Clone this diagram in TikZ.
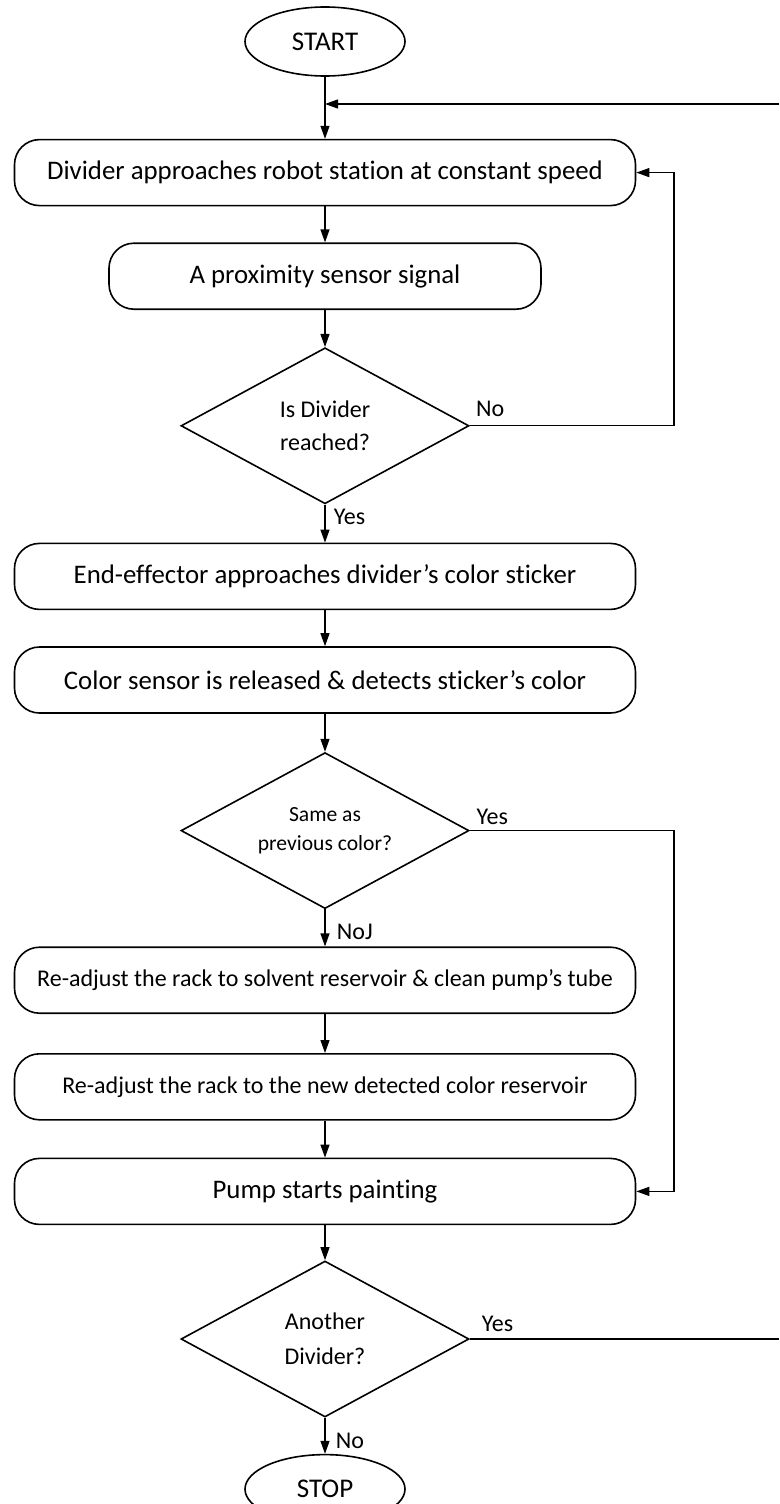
\documentclass[tikz,border=0pt]{standalone}
\usepackage{fontspec}
\setmainfont{Carlito}[Ligatures=NoCommon]
\usetikzlibrary{arrows.meta, positioning, shapes.geometric}

\begin{document}
\begin{tikzpicture}[x=1pt, y=-1pt,
    terminal/.style={ellipse, draw, line width=1.6pt, minimum width=160pt, minimum height=69pt, inner sep=0pt, font=\fontsize{27}{32}\selectfont},
    process/.style={rectangle, draw, line width=1.6pt, rounded corners=25pt, minimum width=621pt, minimum height=66pt, inner sep=0pt, font=\fontsize{26.8}{32}\selectfont},
    decision/.style={diamond, draw, line width=1.6pt, minimum width=288pt, minimum height=156pt, shape aspect=1.85, inner sep=0pt, align=center, font=\fontsize{24}{33}\selectfont},
    flow/.style={-{Triangle[length=13pt, width=9pt]}, line width=1.2pt},
    link/.style={line width=1.2pt},
    answer/.style={font=\fontsize{24}{28}\selectfont}
]
\useasboundingbox (0,0) rectangle (779,1504);
\node[terminal] (start) at (325,41.5) {START};
\node[process, below=62pt of start] (approach) {Divider approaches robot station at constant speed};
\node[process, minimum width=432pt, below=36pt of approach] (sensor) {A proximity sensor signal};
\node[decision, below=37pt of sensor] (reached) {Is Divider\\reached?};
\node[process, below=38pt of reached] (effector) {End-effector approaches divider’s color sticker};
\node[process, below=36pt of effector] (colorsense) {Color sensor is released \& detects sticker’s color};
\node[decision, font=\fontsize{21.6}{29}\selectfont, below=38pt of colorsense] (same) {Same as\\previous color?};
\node[process, font=\fontsize{24}{29}\selectfont, below=37pt of same] (solvent) {Re-adjust the rack to solvent reservoir \& clean pump’s tube};
\node[process, font=\fontsize{24}{29}\selectfont, below=39pt of solvent] (newcolor) {Re-adjust the rack to the new detected color reservoir};
\node[process, below=37pt of newcolor] (paint) {Pump starts painting};
\node[decision, font=\fontsize{24}{35}\selectfont, below=35pt of paint] (another) {Another\\Divider?};
\node[terminal, below=36pt of another] (stop) {STOP};
\coordinate (reentry) at (779,104);
\coordinate (return) at (674,0);

\draw[flow] (start) -- (approach);
\draw[flow] (reentry) -- (approach.north |- reentry);
\draw[flow] (approach) -- (sensor);
\draw[flow] (sensor) -- (reached);
\draw[flow] (reached.east) -- node[answer, pos=0.1, above=5pt]{No} (reached.east -| return) |- (approach.east);
\draw[flow] (reached) -- node[answer, right=5pt, pos=0.33]{Yes} (effector);
\draw[flow] (effector) -- (colorsense);
\draw[flow] (colorsense) -- (same);
\draw[flow] (same.east) -- node[answer, pos=0.11, above=2pt]{Yes} (same.east -| return) |- (paint.east);
\draw[flow] (same) -- node[answer, right=8pt, pos=0.6]{NoJ} (solvent);
\draw[flow] (solvent) -- (newcolor);
\draw[flow] (newcolor) -- (paint);
\draw[flow] (paint) -- (another);
\draw[link] (another.east) -- node[answer, pos=0.09, above=3pt]{Yes} (another.east -| reentry);
\draw[flow] (another) -- node[answer, right=7pt, pos=0.65]{No} (stop);
\end{tikzpicture}
\end{document}
